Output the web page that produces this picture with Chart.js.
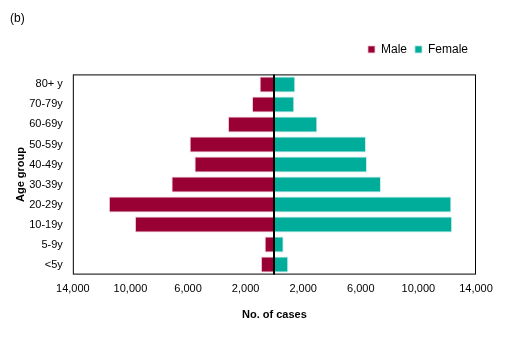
<!DOCTYPE html>
<html>
<head>
<meta charset="utf-8">
<script src="https://cdn.jsdelivr.net/npm/chart.js@4"></script>
<style>
html,body{margin:0;padding:0;background:#fff;}
#wrap{position:relative;width:512px;height:355px;}
</style>
</head>
<body>
<div id="wrap"><canvas id="c" width="512" height="355"></canvas></div>
<script>
const categories = ['80+ y','70-79y','60-69y','50-59y','40-49y','30-39y','20-29y','10-19y','5-9y','<5y'];
const maleValues = [1030, 1560, 3230, 5890, 5550, 7150, 11500, 9690, 680, 940];
const femaleValues = [1450, 1380, 2980, 6360, 6430, 7400, 12290, 12340, 640, 960];
const xTickValues = [-14000, -10000, -6000, -2000, 2000, 6000, 10000, 14000];

const fontFamily = '"Liberation Sans", Arial, sans-serif';

const framePlugin = {
  id: 'frame',
  beforeLayout(chart) {
    const lg = chart.legend;
    if (lg && !lg._wrapped) {
      const orig = lg.fit;
      lg.fit = function () { orig.call(this); this.height += 9; };
      lg._wrapped = true;
    }
  },
  afterDatasetsDraw(chart) {
    const {ctx, chartArea, scales} = chart;
    ctx.save();
    ctx.strokeStyle = '#000';
    ctx.lineWidth = 1;
    ctx.strokeRect(chartArea.left + 0.5, chartArea.top + 0.5, chartArea.right - chartArea.left - 1, chartArea.bottom - chartArea.top - 1);
    const x0 = Math.round(scales.x.getPixelForValue(0));
    ctx.lineWidth = 2;
    ctx.beginPath();
    ctx.moveTo(x0, chartArea.top);
    ctx.lineTo(x0, chartArea.bottom);
    ctx.stroke();
    ctx.restore();
  }
};

new Chart(document.getElementById('c'), {
  type: 'bar',
  data: {
    labels: categories,
    datasets: [
      { label: 'Male', data: maleValues.map(v => -v), backgroundColor: '#990033', borderColor: 'rgba(240,200,210,0.8)', borderWidth: 1 },
      { label: 'Female', data: femaleValues, backgroundColor: '#00ad9b', borderColor: 'rgba(180,230,225,0.8)', borderWidth: 1 }
    ]
  },
  options: {
    indexAxis: 'y',
    responsive: false,
    animation: false,
    categoryPercentage: 0.8,
    barPercentage: 1.0,
    layout: { padding: { left: 10, right: 36, top: 0, bottom: 29 } },
    plugins: {
      title: {
        display: true, text: '(b)', align: 'start', color: '#000',
        font: { family: fontFamily, size: 12, weight: 'normal' },
        padding: { top: 11, bottom: 10 }
      },
      legend: {
        position: 'top', align: 'end',
        labels: {
          boxWidth: 7, boxHeight: 7, color: '#000', padding: 8,
          font: { family: fontFamily, size: 12 }
        }
      },
      tooltip: { enabled: false }
    },
    scales: {
      x: {
        stacked: true,
        min: -14000, max: 14000,
        afterBuildTicks(scale) { scale.ticks = xTickValues.map(v => ({ value: v })); },
        grid: { display: false, drawTicks: false },
        border: { display: false },
        ticks: {
          color: '#000', padding: 8,
          font: { family: fontFamily, size: 11 },
          callback: v => Math.abs(v).toLocaleString('en-US'),
          maxRotation: 0, autoSkip: false
        },
        title: {
          display: true, text: 'No. of cases', color: '#000',
          font: { family: fontFamily, size: 11, weight: 'bold' },
          padding: { top: 5 }
        }
      },
      y: {
        stacked: true,
        afterFit(scale) { scale.width -= 8; },
        grid: { display: false, drawTicks: false },
        border: { display: false },
        ticks: { color: '#000', padding: 10, font: { family: fontFamily, size: 11 } },
        title: {
          display: true, text: 'Age group', color: '#000',
          font: { family: fontFamily, size: 11, weight: 'bold' },
          padding: { bottom: 0 }
        }
      }
    }
  },
  plugins: [framePlugin]
});
</script>
</body>
</html>
